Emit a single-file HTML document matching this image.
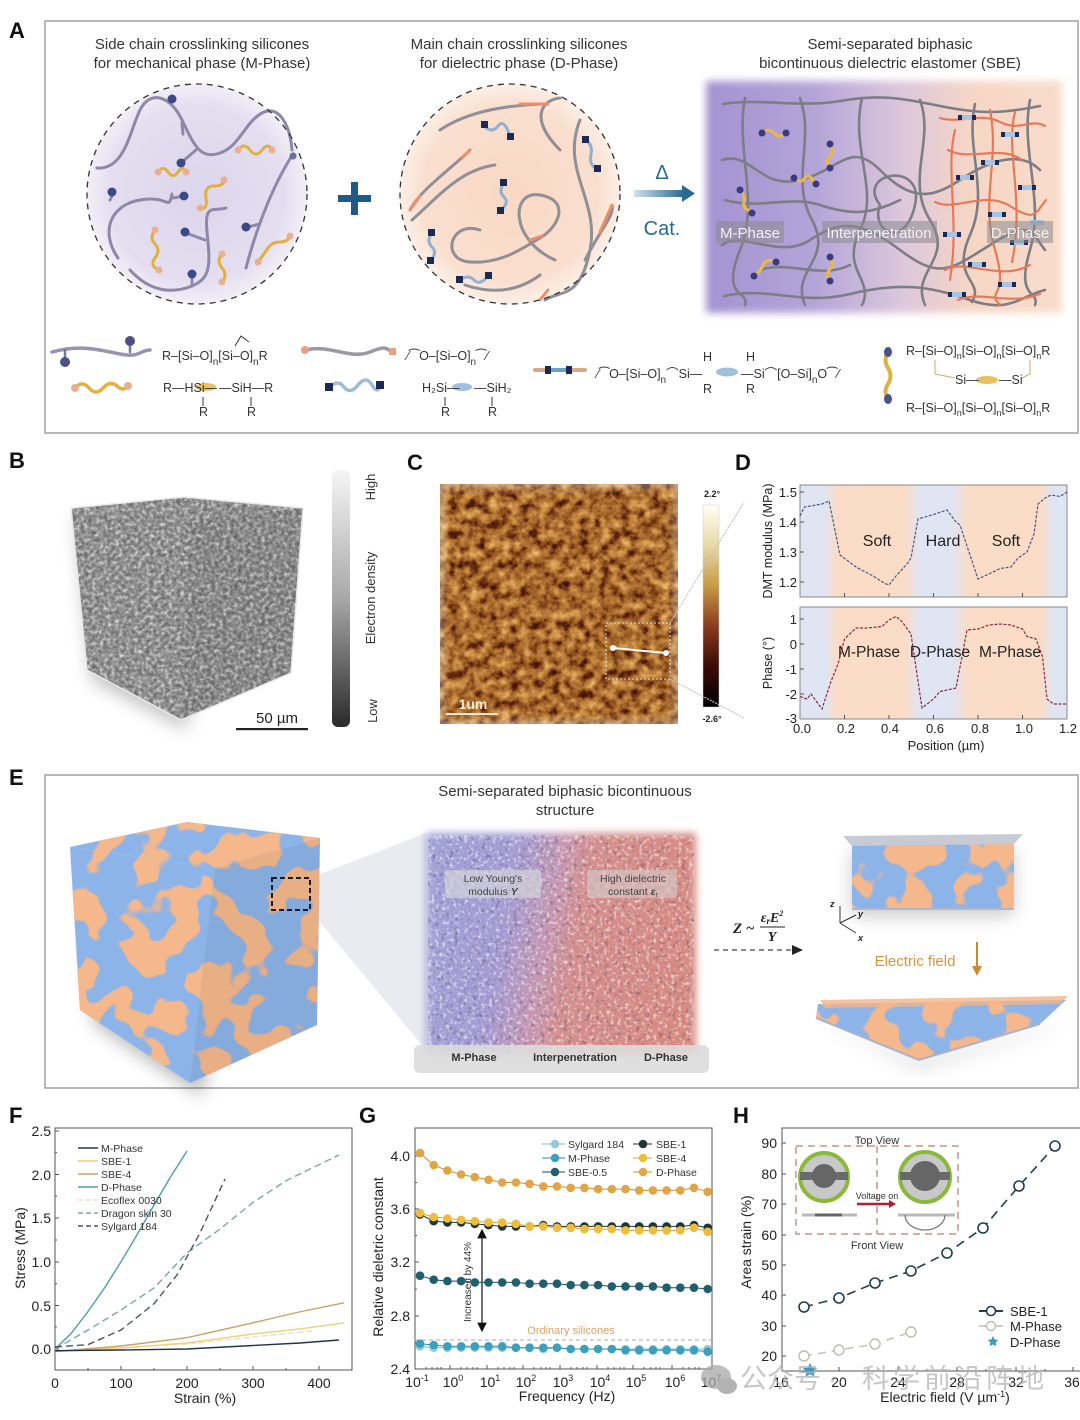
<!DOCTYPE html>
<html><head><meta charset="utf-8">
<style>
html,body{margin:0;padding:0;background:#fff;}
svg{display:block;}
text{font-family:"Liberation Sans",Arial,sans-serif;fill:#222;}
.pl{font-family:"Liberation Sans Narrow","Liberation Sans",sans-serif;font-weight:bold;font-size:22px;fill:#111;}
.t15{font-size:15px;fill:#333;}
.ch{font-size:12.5px;fill:#333;}
.tk{font-size:14px;fill:#222;}
.tkd{font-size:13px;fill:#222;}
.lg{font-size:10.5px;fill:#333;}
filter{color-interpolation-filters:sRGB;}
</style></head><body>
<svg width="1080" height="1420" viewBox="0 0 1080 1420" xmlns="http://www.w3.org/2000/svg">
<defs>
 <radialGradient id="gc1" cx="0.5" cy="0.5" r="0.5">
  <stop offset="0" stop-color="#ddd6ec"/><stop offset="0.8" stop-color="#e4def0"/><stop offset="1" stop-color="#f2eff7"/>
 </radialGradient>
 <radialGradient id="gc2" cx="0.5" cy="0.5" r="0.5">
  <stop offset="0" stop-color="#f9d8c4"/><stop offset="0.8" stop-color="#fadfcf"/><stop offset="1" stop-color="#fcefe6"/>
 </radialGradient>
 <linearGradient id="gsbe" x1="0" y1="0" x2="1" y2="0">
  <stop offset="0" stop-color="#a493d2"/><stop offset="0.3" stop-color="#b3a4d8"/><stop offset="0.55" stop-color="#dcc7dc"/><stop offset="0.75" stop-color="#f6d6c4"/><stop offset="1" stop-color="#f8dccb"/>
 </linearGradient>
 <linearGradient id="garrow" x1="0" y1="0" x2="1" y2="0">
  <stop offset="0" stop-color="#cfe0ec"/><stop offset="1" stop-color="#2a6a90"/>
 </linearGradient>
 <linearGradient id="gcbB" x1="0" y1="0" x2="0" y2="1">
  <stop offset="0" stop-color="#f6f6f6"/><stop offset="0.5" stop-color="#a8a8a8"/><stop offset="1" stop-color="#2a2a2a"/>
 </linearGradient>
 <linearGradient id="gcbC" x1="0" y1="0" x2="0" y2="1">
  <stop offset="0" stop-color="#fffff4"/><stop offset="0.2" stop-color="#ead9a6"/><stop offset="0.4" stop-color="#c79a45"/><stop offset="0.6" stop-color="#8a3b1e"/><stop offset="0.8" stop-color="#3a0c06"/><stop offset="1" stop-color="#000"/>
 </linearGradient>
 <linearGradient id="gband" x1="800" y1="0" x2="1067" y2="0" gradientUnits="userSpaceOnUse">
  <stop offset="0" stop-color="#dfe5f3"/><stop offset="0.09" stop-color="#dfe5f3"/><stop offset="0.14" stop-color="#fbdcc6"/>
  <stop offset="0.39" stop-color="#fbdcc6"/><stop offset="0.45" stop-color="#dfe5f3"/><stop offset="0.57" stop-color="#dfe5f3"/>
  <stop offset="0.63" stop-color="#fbdcc6"/><stop offset="0.9" stop-color="#fbdcc6"/><stop offset="0.95" stop-color="#dfe5f3"/><stop offset="1" stop-color="#dfe5f3"/>
 </linearGradient>
 <linearGradient id="gmid" x1="0" y1="0" x2="1" y2="0.15">
  <stop offset="0" stop-color="#9fa2d8"/><stop offset="0.35" stop-color="#a49bd2"/><stop offset="0.5" stop-color="#c598b4"/><stop offset="0.62" stop-color="#d48e8c"/><stop offset="1" stop-color="#d68a82"/>
 </linearGradient>
 <filter id="fGray" x="0" y="0" width="100%" height="100%" color-interpolation-filters="sRGB">
  <feTurbulence type="fractalNoise" baseFrequency="0.26" numOctaves="2" seed="5"/>
  <feColorMatrix type="matrix" values="1 0 0 0 0 1 0 0 0 0 1 0 0 0 0 0 0 0 0 1"/>
  <feComponentTransfer>
   <feFuncR type="table" tableValues="0.36 0.38 0.44 0.5 0.57 0.66 0.78 0.9 0.95"/>
   <feFuncG type="table" tableValues="0.36 0.38 0.44 0.5 0.57 0.66 0.78 0.9 0.95"/>
   <feFuncB type="table" tableValues="0.36 0.38 0.44 0.5 0.57 0.66 0.78 0.9 0.95"/>
  </feComponentTransfer>
  <feComposite in2="SourceGraphic" operator="in"/>
 </filter>
 <filter id="fAfm" x="0" y="0" width="100%" height="100%" color-interpolation-filters="sRGB">
  <feTurbulence type="fractalNoise" baseFrequency="0.1" numOctaves="3" seed="11"/>
  <feColorMatrix type="matrix" values="1 0 0 0 0 1 0 0 0 0 1 0 0 0 0 0 0 0 0 1"/>
  <feComponentTransfer>
   <feFuncR type="table" tableValues="0.2 0.22 0.33 0.52 0.66 0.76 0.85 0.9 0.94"/>
   <feFuncG type="table" tableValues="0.06 0.07 0.12 0.28 0.42 0.52 0.63 0.72 0.8"/>
   <feFuncB type="table" tableValues="0.03 0.03 0.05 0.1 0.18 0.25 0.33 0.44 0.5"/>
  </feComponentTransfer>
  <feComposite in2="SourceGraphic" operator="in"/>
 </filter>
 <filter id="fBlob" x="0" y="0" width="100%" height="100%" color-interpolation-filters="sRGB">
  <feTurbulence type="fractalNoise" baseFrequency="0.03" numOctaves="2" seed="7" result="t"/>
  <feColorMatrix in="t" type="matrix" values="0 0 0 0 0.96 0 0 0 0 0.72 0 0 0 0 0.55 -25 0 0 0 12.6" result="o"/>
  <feComposite in="o" in2="SourceGraphic" operator="in" result="oc"/>
  <feMerge><feMergeNode in="SourceGraphic"/><feMergeNode in="oc"/></feMerge>
 </filter>
 <filter id="fSpeck" x="0" y="0" width="100%" height="100%" color-interpolation-filters="sRGB">
  <feTurbulence type="fractalNoise" baseFrequency="0.28" numOctaves="2" seed="3"/>
  <feColorMatrix type="matrix" values="0 0 0 0 1 0 0 0 0 1 0 0 0 0 1 4 0 0 0 -2.05"/>
  <feComposite in2="SourceGraphic" operator="in"/>
 </filter>
 <filter id="fSpeckD" x="0" y="0" width="100%" height="100%" color-interpolation-filters="sRGB">
  <feTurbulence type="fractalNoise" baseFrequency="0.22" numOctaves="2" seed="9"/>
  <feColorMatrix type="matrix" values="0 0 0 0 0.3 0 0 0 0 0.2 0 0 0 0 0.35 -4 0 0 0 1.75"/>
  <feComposite in2="SourceGraphic" operator="in"/>
 </filter>
 <filter id="fBlur4" x="-10%" y="-10%" width="120%" height="120%"><feGaussianBlur stdDeviation="4"/></filter>
 <filter id="fBlur8" x="-20%" y="-20%" width="140%" height="140%"><feGaussianBlur stdDeviation="9"/></filter>
 <marker id="ah" markerWidth="8" markerHeight="8" refX="7" refY="4" orient="auto"><path d="M0,0 L8,4 L0,8 z" fill="#111"/></marker>
 <marker id="ahs" markerWidth="8" markerHeight="8" refX="1" refY="4" orient="auto"><path d="M8,0 L0,4 L8,8 z" fill="#111"/></marker>
</defs>

<!-- ================= PANEL A ================= -->
<text class="pl" x="9" y="38">A</text>
<rect x="45" y="21" width="1033" height="412" fill="none" stroke="#a0a0a0" stroke-width="1.5"/>
<text class="t15" x="202" y="49" text-anchor="middle">Side chain crosslinking silicones</text>
<text class="t15" x="202" y="68" text-anchor="middle">for mechanical phase (M-Phase)</text>
<text class="t15" x="519" y="49" text-anchor="middle">Main chain crosslinking silicones</text>
<text class="t15" x="519" y="68" text-anchor="middle">for dielectric phase (D-Phase)</text>
<text class="t15" x="890" y="49" text-anchor="middle">Semi-separated biphasic</text>
<text class="t15" x="890" y="68" text-anchor="middle">bicontinuous dielectric elastomer (SBE)</text>

<!-- circle 1 -->
<circle cx="197" cy="194" r="110" fill="url(#gc1)"/>
<g fill="none" stroke="#8d88a8" stroke-width="3" stroke-linecap="round">
 <path d="M97,168 C125,170 130,130 140,110 S170,95 182,120 S200,160 220,153 S245,122 262,113 S290,125 292,150"/>
 <path d="M118,258 C100,232 110,205 140,200 S168,212 172,194"/>
 <path d="M130,270 C150,292 172,294 192,286 S210,262 207,232 S214,212 226,208"/>
 <path d="M246,268 C258,222 275,182 293,154"/>
 <path d="M182,123 L183,134"/><path d="M196,150 L182,162"/><path d="M114,192 L110,200"/>
 <path d="M173,198 L184,196"/><path d="M205,240 L186,233"/><path d="M192,286 L192,275"/><path d="M260,224 L248,227"/>
</g>
<g fill="#3b4a85">
 <circle cx="172" cy="99" r="4.5"/><circle cx="181" cy="163" r="4.5"/><circle cx="112" cy="192" r="4.5"/>
 <circle cx="184" cy="196" r="4.5"/><circle cx="185" cy="232" r="4.5"/><circle cx="192" cy="274" r="4.5"/><circle cx="246" cy="227" r="4.5"/>
 <circle cx="293" cy="156" r="3.5" fill="#6a70a0"/>
</g>
<g fill="none" stroke="#e0b040" stroke-width="3" stroke-linecap="round">
 <path d="M238,150 q6,-8 12,0 t12,0 t10,0"/>
 <path d="M158,172 q5,-7 10,0 t10,0 t8,0"/>
 <path d="M200,208 q8,2 6,-10 t8,-12 t10,-6"/>
 <path d="M155,230 q-6,8 0,14 t0,14 t4,12"/>
 <path d="M222,254 q-6,7 0,14 t0,14"/>
 <path d="M258,262 q6,-8 10,-14 t12,-6 t10,-6"/>
</g>
<g fill="#e8b090">
 <circle cx="238" cy="150" r="3.5"/><circle cx="272" cy="150" r="3.5"/><circle cx="158" cy="172" r="3.5"/><circle cx="186" cy="172" r="3.5"/>
 <circle cx="200" cy="208" r="3.5"/><circle cx="224" cy="180" r="3.5"/><circle cx="155" cy="230" r="3.5"/><circle cx="159" cy="270" r="3.5"/>
 <circle cx="222" cy="254" r="3.5"/><circle cx="222" cy="282" r="3.5"/><circle cx="258" cy="262" r="3.5"/><circle cx="290" cy="236" r="3.5"/>
</g>
<circle cx="197" cy="194" r="110" fill="none" stroke="#333" stroke-width="1.3" stroke-dasharray="6 5"/>

<!-- plus -->
<rect x="338" y="195" width="33" height="7" fill="#1e5a85"/>
<rect x="351" y="182" width="7" height="33" fill="#1e5a85"/>

<!-- circle 2 -->
<circle cx="510" cy="194" r="110" fill="url(#gc2)"/>
<g fill="none" stroke="#8f8f95" stroke-width="3" stroke-linecap="round">
 <path d="M440,130 C470,110 510,105 545,104"/>
 <path d="M470,150 C450,170 420,190 410,210"/>
 <path d="M480,230 C450,220 440,260 470,262 S520,250 540,238 S570,200 540,195 S510,240 555,260"/>
 <path d="M560,150 C530,120 540,100 560,98"/>
 <path d="M580,120 C560,170 600,200 590,250 S560,290 545,300"/>
 <path d="M412,220 C440,195 460,170 495,165"/>
 <path d="M465,285 C495,295 520,290 540,275"/>
 <path d="M585,260 C600,230 615,215 612,205"/>
</g>
<g fill="none" stroke="#e8906c" stroke-width="3" stroke-linecap="round">
 <path d="M520,104 L548,104"/><path d="M420,196 L410,210"/><path d="M530,240 L542,236"/><path d="M600,232 L612,205"/><path d="M470,150 L462,158"/><path d="M548,290 L540,300"/>
</g>
<g fill="none" stroke="#8fb0cf" stroke-width="3" stroke-linecap="round">
 <path d="M484,126 q8,8 14,0 t12,10"/><path d="M504,183 q-6,8 0,14 t-4,14"/><path d="M432,233 q-6,8 0,14 t-2,14"/><path d="M460,280 q8,-6 14,0 t14,-4"/><path d="M585,140 q8,4 6,14 t4,14"/>
</g>
<g fill="#1b2a55">
 <rect x="481" y="121" width="7" height="7"/><rect x="507" y="133" width="7" height="7"/><rect x="500" y="179" width="7" height="7"/><rect x="497" y="207" width="7" height="7"/>
 <rect x="428" y="229" width="7" height="7"/><rect x="427" y="257" width="7" height="7"/><rect x="456" y="276" width="7" height="7"/><rect x="485" y="272" width="7" height="7"/>
 <rect x="582" y="136" width="7" height="7"/><rect x="594" y="165" width="7" height="7"/>
</g>
<circle cx="510" cy="194" r="110" fill="none" stroke="#333" stroke-width="1.3" stroke-dasharray="6 5"/>

<!-- arrow -->
<text x="662" y="179" text-anchor="middle" style="font-size:20px;fill:#2a6a90">Δ</text>
<rect x="634" y="190" width="50" height="7" fill="url(#garrow)"/>
<path d="M682,185 L695,193.5 L682,202 z" fill="#2a6a90"/>
<text x="662" y="235" text-anchor="middle" style="font-size:20px;fill:#2a6a90">Cat.</text>

<!-- SBE rect -->
<rect x="706" y="81" width="356" height="232" fill="url(#gsbe)" filter="url(#fBlur4)"/>
<g fill="none" stroke="#7d7d86" stroke-width="2.6" stroke-linecap="round">
 <path d="M723,104 C760,98 800,108 840,101 S900,98 940,106 S1000,114 1040,106"/>
 <path d="M722,160 C750,150 760,190 800,180 S850,140 880,170 S930,200 960,180 S1020,150 1040,170"/>
 <path d="M722,245 C740,230 780,260 810,240 S860,220 900,250 S950,270 990,245 S1030,230 1045,250"/>
 <path d="M724,296 C770,286 800,306 850,294 S930,286 970,300 S1020,296 1045,290"/>
 <path d="M745,98 C735,150 760,200 740,250 S750,290 745,305"/>
 <path d="M800,98 C815,140 790,180 812,220 S790,270 805,305"/>
 <path d="M862,98 C850,150 880,190 860,230 S875,280 862,305"/>
 <path d="M920,100 C935,140 905,180 930,220 S910,270 925,305"/>
 <path d="M975,104 C965,150 990,190 970,235 S985,280 972,302"/>
 <path d="M880,205 C855,172 925,160 915,205 S870,232 880,205"/>
 <path d="M1030,100 C1020,150 1045,200 1030,250 S1040,290 1035,305"/>
 <path d="M725,200 C760,210 790,195 820,205 S870,215 900,200"/>
 <path d="M760,270 C790,260 820,280 850,265"/>
</g>
<g fill="none" stroke="#e57a5a" stroke-width="2.2" stroke-linecap="round">
 <path d="M940,118 C960,124 980,112 1000,122 S1030,118 1045,126"/>
 <path d="M948,150 C970,162 1000,144 1022,160"/>
 <path d="M935,202 C955,212 985,190 1010,206 S1035,214 1046,200"/>
 <path d="M945,270 C965,258 1000,282 1030,265"/>
 <path d="M958,300 C980,290 1010,306 1040,294"/>
 <path d="M990,110 C1000,160 980,200 995,250 S985,290 1000,305"/>
 <path d="M1015,112 C1005,150 1025,200 1012,262"/>
 <path d="M955,130 C945,170 960,220 950,280"/>
</g>
<g>
 <g fill="#a8c4e2"><rect x="960" y="115" width="14" height="5"/><rect x="1003" y="132" width="14" height="5"/><rect x="983" y="160" width="14" height="5"/><rect x="958" y="175" width="14" height="5"/><rect x="1020" y="185" width="14" height="5"/><rect x="990" y="212" width="14" height="5"/><rect x="945" y="232" width="14" height="5"/><rect x="1012" y="240" width="14" height="5"/><rect x="970" y="262" width="14" height="5"/><rect x="1000" y="282" width="14" height="5"/><rect x="950" y="292" width="14" height="5"/><rect x="1030" y="220" width="14" height="5"/></g>
 <g fill="#1b2a55"><rect x="958" y="115" width="4" height="5"/><rect x="972" y="115" width="4" height="5"/><rect x="1001" y="132" width="4" height="5"/><rect x="1015" y="132" width="4" height="5"/><rect x="981" y="160" width="4" height="5"/><rect x="995" y="160" width="4" height="5"/><rect x="956" y="175" width="4" height="5"/><rect x="970" y="175" width="4" height="5"/><rect x="1018" y="185" width="4" height="5"/><rect x="1032" y="185" width="4" height="5"/><rect x="988" y="212" width="4" height="5"/><rect x="1002" y="212" width="4" height="5"/><rect x="943" y="232" width="4" height="5"/><rect x="957" y="232" width="4" height="5"/><rect x="1010" y="240" width="4" height="5"/><rect x="1024" y="240" width="4" height="5"/><rect x="968" y="262" width="4" height="5"/><rect x="982" y="262" width="4" height="5"/><rect x="998" y="282" width="4" height="5"/><rect x="1012" y="282" width="4" height="5"/><rect x="948" y="292" width="4" height="5"/><rect x="962" y="292" width="4" height="5"/></g>
</g>
<g fill="none" stroke="#e8b84a" stroke-width="3.2" stroke-linecap="round">
 <path d="M763,133 q6,-6 11,0 t11,0"/><path d="M830,145 q5,6 0,11 t0,11"/><path d="M795,178 q6,6 10,0 t10,6"/><path d="M740,190 q6,6 4,12 t8,10"/><path d="M830,258 q5,6 0,11 t0,11"/><path d="M755,275 q6,-4 8,-10 t12,-4"/>
</g>
<g fill="#3a3a80">
 <circle cx="762" cy="133" r="3.5"/><circle cx="786" cy="133" r="3.5"/><circle cx="830" cy="144" r="3.5"/><circle cx="830" cy="168" r="3.5"/>
 <circle cx="794" cy="178" r="3.5"/><circle cx="816" cy="184" r="3.5"/><circle cx="740" cy="190" r="3.5"/><circle cx="752" cy="213" r="3.5"/>
 <circle cx="830" cy="257" r="3.5"/><circle cx="830" cy="281" r="3.5"/><circle cx="754" cy="276" r="3.5"/><circle cx="776" cy="262" r="3.5"/>
</g>
<g>
 <rect x="716" y="221" width="68" height="22" fill="#8a8a90" opacity="0.55"/>
 <rect x="822" y="221" width="115" height="22" fill="#8a8a90" opacity="0.55"/>
 <rect x="987" y="221" width="66" height="22" fill="#8a8a90" opacity="0.55"/>
 <text x="750" y="238" text-anchor="middle" style="font-size:15px;fill:#f2f2f2">M-Phase</text>
 <text x="879" y="238" text-anchor="middle" style="font-size:15px;fill:#f2f2f2">Interpenetration</text>
 <text x="1020" y="238" text-anchor="middle" style="font-size:15px;fill:#f2f2f2">D-Phase</text>
</g>

<!-- chemistry row -->
<g fill="none" stroke-linecap="round">
 <path d="M52,352 C80,344 100,350 120,354 S140,350 150,350" stroke="#9a92b0" stroke-width="3.5"/>
 <path d="M65,350 L65,360 M130,352 L130,342" stroke="#7a74a0" stroke-width="2.5"/>
 <path d="M75,388 q7,-8 14,0 t14,0 t14,-2 t10,0" stroke="#e0b040" stroke-width="3.5"/>
 <path d="M305,350 C330,344 350,360 370,352 S385,350 393,352" stroke="#9a9aa0" stroke-width="3.5"/>
 <path d="M330,387 q8,-8 14,0 t14,-2 t14,0 t8,0" stroke="#9fbcd6" stroke-width="3.5"/>
 <path d="M535,370 L585,370" stroke="#d9a88a" stroke-width="4"/>
 <path d="M888,352 q-5,8 0,16 t0,16 t0,14" stroke="#e0b040" stroke-width="4"/>
</g>
<circle cx="65" cy="362" r="5" fill="#4a5288"/><circle cx="130" cy="341" r="5" fill="#4a5288"/>
<circle cx="75" cy="388" r="4" fill="#e8b090"/><circle cx="128" cy="386" r="4" fill="#e8b090"/>
<circle cx="305" cy="350" r="4" fill="#e8a080"/><rect x="389" y="348" width="7" height="7" fill="#e8a080"/>
<rect x="325" y="383" width="8" height="8" fill="#1b2a55"/><rect x="376" y="381" width="8" height="8" fill="#1b2a55"/>
<rect x="545" y="366" width="6" height="8" fill="#1b2a55"/><rect x="566" y="366" width="6" height="8" fill="#1b2a55"/><rect x="551" y="368" width="15" height="4" fill="#6fa0cc"/>
<ellipse cx="888" cy="352" rx="4" ry="5" fill="#4a5288"/><ellipse cx="888" cy="399" rx="4" ry="5" fill="#4a5288"/>
<ellipse cx="206" cy="387" rx="10" ry="4" fill="#e8c060"/><ellipse cx="462" cy="387" rx="10" ry="4" fill="#9fc0dc"/>
<ellipse cx="727" cy="372" rx="11" ry="4.5" fill="#9fc0dc"/><ellipse cx="987" cy="380" rx="11" ry="4" fill="#e8c060"/>
<text class="ch" x="162" y="360">R–[Si–O]<tspan dy="5" font-size="10">n</tspan><tspan dy="-5">[Si–O]</tspan><tspan dy="5" font-size="10">n</tspan><tspan dy="-5">R</tspan></text>
<path d="M235,346 l6,-10 l8,6" fill="none" stroke="#333" stroke-width="1"/>
<text class="ch" x="163" y="392">R—HSi—</text><text class="ch" x="219" y="392">—SiH—R</text>
<text class="ch" x="199" y="416">R</text><text class="ch" x="247" y="416">R</text>
<path d="M203,397 v9 M251,397 v9" stroke="#333" stroke-width="1"/>
<text class="ch" x="407" y="360">⁄⁀O–[Si–O]<tspan dy="5" font-size="10">n</tspan><tspan dy="-5">⁀⁄</tspan></text>
<text class="ch" x="422" y="392">H₂Si—</text><text class="ch" x="474" y="392">—SiH₂</text>
<text class="ch" x="441" y="416">R</text><text class="ch" x="488" y="416">R</text>
<path d="M445,397 v9 M492,397 v9" stroke="#333" stroke-width="1"/>
<text class="ch" x="597" y="378">⁄⁀O–[Si–O]<tspan dy="5" font-size="10">n</tspan><tspan dy="-5">⌒Si—</tspan></text>
<text class="ch" x="741" y="378">—Si⌒[O–Si]<tspan dy="5" font-size="10">n</tspan><tspan dy="-5">O⁀⁄</tspan></text>
<text class="ch" x="703" y="361">H</text><text class="ch" x="746" y="361">H</text>
<text class="ch" x="703" y="393">R</text><text class="ch" x="746" y="393">R</text>
<text class="ch" x="906" y="355">R–[Si–O]<tspan dy="4" font-size="9">n</tspan><tspan dy="-4">[Si–O]</tspan><tspan dy="4" font-size="9">n</tspan><tspan dy="-4">[Si–O]</tspan><tspan dy="4" font-size="9">n</tspan><tspan dy="-4">R</tspan></text>
<text class="ch" x="955" y="384">Si—</text><text class="ch" x="999" y="384">—Si</text>
<text class="ch" x="906" y="412">R–[Si–O]<tspan dy="4" font-size="9">n</tspan><tspan dy="-4">[Si–O]</tspan><tspan dy="4" font-size="9">n</tspan><tspan dy="-4">[Si–O]</tspan><tspan dy="4" font-size="9">n</tspan><tspan dy="-4">R</tspan></text>
<path d="M935,360 v14 l20,4 M1030,360 v14 l-8,4" fill="none" stroke="#c8b060" stroke-width="1"/>

<!-- ================= PANEL B ================= -->
<text class="pl" x="9" y="468">B</text>
<polygon points="70,510 190,520 182,722 86,672" fill="#000" opacity="0.25" filter="url(#fBlur8)" transform="translate(6,8)"/>
<polygon points="71,508 184,497 303,508 190,519" fill="#888" filter="url(#fGray)"/>
<polygon points="71,508 190,519 181,720 87,670" fill="#888" filter="url(#fGray)"/>
<polygon points="190,519 303,508 291,673 181,720" fill="#888" filter="url(#fGray)"/>
<polygon points="190,519 303,508 291,673 181,720" fill="#000" opacity="0.05"/>
<polyline points="71,508 184,497 303,508 291,673 181,720 87,670 71,508" fill="none" stroke="#e8e8e8" stroke-width="1.5"/>
<rect x="332" y="470" width="18" height="257" rx="6" fill="url(#gcbB)"/>
<text transform="translate(375,487) rotate(-90)" text-anchor="middle" style="font-size:13px;fill:#333">High</text>
<text transform="translate(375,598) rotate(-90)" text-anchor="middle" style="font-size:13px;fill:#333">Electron density</text>
<text transform="translate(377,711) rotate(-90)" text-anchor="middle" style="font-size:13px;fill:#333">Low</text>
<text x="277" y="723" text-anchor="middle" style="font-size:15px;fill:#222">50 µm</text>
<rect x="236" y="728" width="72" height="2.2" fill="#222"/>

<!-- ================= PANEL C ================= -->
<text class="pl" x="407" y="470">C</text>
<rect x="440" y="484" width="238" height="240" fill="#a07030" filter="url(#fAfm)"/>
<rect x="440" y="484" width="238" height="240" fill="none" stroke="#fff" stroke-width="5" opacity="0.6" filter="url(#fBlur4)"/>
<rect x="606" y="623" width="64" height="56" fill="none" stroke="#ddd" stroke-width="1" stroke-dasharray="2 2"/>
<line x1="613" y1="648" x2="666" y2="653" stroke="#fff" stroke-width="2"/>
<circle cx="613" cy="648" r="3" fill="#fff"/><circle cx="666" cy="653" r="3" fill="#fff"/>
<text x="473" y="709" text-anchor="middle" style="font-size:14px;font-weight:bold;fill:#f4ead0">1um</text>
<rect x="446" y="713" width="52" height="2" fill="#f4ead0"/>
<rect x="703" y="505" width="16" height="202" fill="url(#gcbC)" stroke="#ccc" stroke-width="0.5"/>
<text x="712" y="497" text-anchor="middle" style="font-size:9px;font-weight:bold;fill:#222">2.2°</text>
<text x="712" y="722" text-anchor="middle" style="font-size:9px;font-weight:bold;fill:#222">-2.6°</text>
<line x1="670" y1="623" x2="744" y2="502" stroke="#c4c4c4" stroke-width="1.2" stroke-dasharray="2 1"/>
<line x1="670" y1="679" x2="744" y2="718" stroke="#c4c4c4" stroke-width="1.2" stroke-dasharray="2 1"/>

<!-- ================= PANEL D ================= -->
<text class="pl" x="735" y="470">D</text>
<rect x="800" y="485" width="267" height="112" fill="url(#gband)"/>
<rect x="800" y="607" width="267" height="112" fill="url(#gband)"/>
<rect x="800" y="485" width="267" height="112" fill="none" stroke="#888" stroke-width="1"/>
<rect x="800" y="607" width="267" height="112" fill="none" stroke="#888" stroke-width="1"/>
<g stroke="#555" stroke-width="1">
 <path d="M800,492h4M800,522h4M800,552h4M800,582h4"/>
 <path d="M800,619h4M800,644h4M800,669h4M800,694h4"/>
 <path d="M844.5,597v-4M889,597v-4M933.5,597v-4M978,597v-4M1022.5,597v-4"/>
 <path d="M844.5,719v-4M889,719v-4M933.5,719v-4M978,719v-4M1022.5,719v-4"/>
</g>
<g text-anchor="end">
 <text x="797" y="497" class="tkd">1.5</text><text x="797" y="527" class="tkd">1.4</text><text x="797" y="557" class="tkd">1.3</text><text x="797" y="587" class="tkd">1.2</text>
 <text x="797" y="624" class="tkd">1</text><text x="797" y="649" class="tkd">0</text><text x="797" y="674" class="tkd">-1</text><text x="797" y="699" class="tkd">-2</text><text x="797" y="723" class="tkd">-3</text>
</g>
<g text-anchor="middle">
 <text x="802" y="733" class="tkd">0.0</text><text x="846" y="733" class="tkd">0.2</text><text x="890" y="733" class="tkd">0.4</text><text x="935" y="733" class="tkd">0.6</text><text x="980" y="733" class="tkd">0.8</text><text x="1024" y="733" class="tkd">1.0</text><text x="1068" y="733" class="tkd">1.2</text>
</g>
<text x="946" y="750" text-anchor="middle" style="font-size:13px;fill:#222">Position (µm)</text>
<text transform="translate(772,541) rotate(-90)" text-anchor="middle" style="font-size:12.5px;fill:#222">DMT modulus (MPa)</text>
<text transform="translate(772,663) rotate(-90)" text-anchor="middle" style="font-size:12.5px;fill:#222">Phase (°)</text>
<polyline fill="none" stroke="#4a5a80" stroke-width="1.2" stroke-dasharray="3 1.5" points="800,516 804.5,507 822,504 829,501 840,555 856,567 873,576 885,583.5 889,585 896,576 907,564 911,558 918,519 933.5,514.5 947,510 956,522 960,525 978,579 991,573 1000,568.5 1011,567 1018,558 1027,552 1034,534 1038,504 1045,498 1051,495 1060,496.5 1067,492"/>
<polyline fill="none" stroke="#8b2a48" stroke-width="1.2" stroke-dasharray="3 1.5" points="800,696.5 807,699 811,694 822,709 831,681.5 838,664 844.5,639 856,628 867,628 882,626.5 889,620 896,616.5 902,621.5 911,634 922,708 933.5,699 940,691.5 947,690 956,688 962,656.5 967,630 978,629 989,625 1000,624 1011,625 1022.5,629 1027,636.5 1036,639 1042.5,656.5 1047,699 1053.5,704 1067,704"/>
<text x="877" y="546" text-anchor="middle" style="font-size:16px;fill:#222">Soft</text>
<text x="943" y="546" text-anchor="middle" style="font-size:16px;fill:#222">Hard</text>
<text x="1006" y="546" text-anchor="middle" style="font-size:16px;fill:#222">Soft</text>
<text x="869" y="657" text-anchor="middle" style="font-size:15.5px;fill:#222">M-Phase</text>
<text x="940" y="657" text-anchor="middle" style="font-size:15.5px;fill:#222">D-Phase</text>
<text x="1010" y="657" text-anchor="middle" style="font-size:15.5px;fill:#222">M-Phase</text>

<!-- ================= PANEL E ================= -->
<text class="pl" x="9" y="785">E</text>
<rect x="45" y="775" width="1033" height="313" fill="none" stroke="#a0a0a0" stroke-width="1.5"/>
<text class="t15" x="565" y="796" text-anchor="middle">Semi-separated biphasic bicontinuous</text>
<text class="t15" x="565" y="815" text-anchor="middle">structure</text>
<polygon points="310,878 426,833 426,1050 310,910" fill="#e9ebf1"/>
<polygon points="75,850 215,872 195,1088 86,1015" fill="#000" opacity="0.3" filter="url(#fBlur8)" transform="translate(8,8)"/>
<polygon points="70,847 187,822 320,838 215,868" fill="#8db4e8" filter="url(#fBlob)"/>
<polygon points="70,847 215,868 190,1083 80,1010" fill="#8db4e8" filter="url(#fBlob)"/>
<polygon points="215,868 320,838 317,1025 190,1083" fill="#8db4e8" filter="url(#fBlob)"/>
<polygon points="215,868 320,838 317,1025 190,1083" fill="#000" opacity="0.05"/>
<rect x="272" y="878" width="38" height="32" fill="none" stroke="#1a1a2a" stroke-width="2" stroke-dasharray="5 3"/>
<!-- middle image -->
<rect x="426" y="833" width="270" height="222" fill="url(#gmid)" filter="url(#fBlur4)"/>
<rect x="428" y="835" width="266" height="218" fill="#fff" opacity="0.55" filter="url(#fSpeck)"/>
<rect x="428" y="835" width="266" height="218" fill="#000" opacity="0.35" filter="url(#fSpeckD)"/>
<rect x="445" y="870" width="96" height="28" rx="3" fill="#d4d4d8" opacity="0.7"/>
<rect x="587" y="870" width="90" height="28" rx="3" fill="#d6c4c4" opacity="0.7"/>
<text x="493" y="882" text-anchor="middle" style="font-size:10.5px;fill:#444">Low Young's</text>
<text x="493" y="895" text-anchor="middle" style="font-size:10.5px;fill:#444">modulus <tspan font-weight="bold" font-style="italic">Y</tspan></text>
<text x="633" y="882" text-anchor="middle" style="font-size:10.5px;fill:#444">High dielectric</text>
<text x="633" y="895" text-anchor="middle" style="font-size:10.5px;fill:#444">constant <tspan font-weight="bold" font-style="italic">ε</tspan><tspan font-size="7" dy="2">r</tspan></text>
<rect x="414" y="1045" width="295" height="28" rx="6" fill="#dcdcdc" opacity="0.9"/>
<text x="474" y="1061" text-anchor="middle" style="font-size:11px;font-weight:bold;fill:#333">M-Phase</text>
<text x="575" y="1061" text-anchor="middle" style="font-size:11px;font-weight:bold;fill:#333">Interpenetration</text>
<text x="666" y="1061" text-anchor="middle" style="font-size:11px;font-weight:bold;fill:#333">D-Phase</text>
<!-- equation -->
<text x="733" y="933" style="font-family:'Liberation Serif',serif;font-size:15px;font-weight:bold;font-style:italic;fill:#222">Z ~</text>
<text x="772" y="922" text-anchor="middle" style="font-family:'Liberation Serif',serif;font-size:14px;font-weight:bold;font-style:italic;fill:#222">ε<tspan font-size="9" dy="2">r</tspan><tspan dy="-2">E</tspan><tspan font-size="8" dy="-6">2</tspan></text>
<line x1="760" y1="927" x2="785" y2="927" stroke="#222" stroke-width="1"/>
<text x="772" y="941" text-anchor="middle" style="font-family:'Liberation Serif',serif;font-size:14px;font-weight:bold;font-style:italic;fill:#222">Y</text>
<line x1="714" y1="950" x2="795" y2="950" stroke="#444" stroke-width="1.2" stroke-dasharray="5 4"/>
<path d="M792,945 L803,950 L792,955 z" fill="#222"/>
<!-- axes -->
<g stroke="#333" stroke-width="1" fill="none"><path d="M840,923 L840,906 M840,923 L856,915 M840,923 L856,933"/></g>
<text x="830" y="907" style="font-size:9px;font-weight:bold;font-style:italic;fill:#222">z</text>
<text x="858" y="917" style="font-size:9px;font-weight:bold;font-style:italic;fill:#222">y</text>
<text x="858" y="941" style="font-size:9px;font-weight:bold;font-style:italic;fill:#222">x</text>
<!-- top block -->
<rect x="852" y="842" width="162" height="68" rx="5" fill="#000" opacity="0.2" filter="url(#fBlur8)" transform="translate(0,6)"/>
<rect x="852" y="842" width="162" height="68" rx="5" fill="#8db4e8" filter="url(#fBlob)"/>
<polygon points="843,836 1023,834 1014,844 852,846" fill="#c6cbd6"/>
<line x1="852" y1="909" x2="1014" y2="909" stroke="#aeb6c8" stroke-width="2"/>
<text x="915" y="966" text-anchor="middle" style="font-size:15px;fill:#d4953a">Electric field</text>
<line x1="977" y1="942" x2="977" y2="968" stroke="#c98a35" stroke-width="2"/>
<path d="M972,966 L977,976 L982,966 z" fill="#c98a35"/>
<!-- bottom block -->
<polygon points="818,1020 919,1068 1068,1024 1040,1030 919,1062" fill="#000" opacity="0.25" filter="url(#fBlur8)"/>
<polygon points="818,1004 1066,1000 1040,1024 919,1060 816,1018" fill="#8db4e8" filter="url(#fBlob)"/>
<polygon points="820,1000 1068,996 1060,1004 826,1008" fill="#f2b488" opacity="0.8"/>
<polyline points="816,1018 919,1060 1040,1024" fill="none" stroke="#a8b2cc" stroke-width="2"/>

<!-- ================= PANEL F ================= -->
<text class="pl" x="9" y="1123">F</text>
<rect x="55" y="1128" width="297" height="242" fill="none" stroke="#555" stroke-width="1"/>
<g stroke="#555" stroke-width="1">
 <path d="M55,1131h4M55,1174.5h4M55,1218h4M55,1262h4M55,1305.5h4M55,1349h4"/>
 <path d="M55,1152.8h2M55,1196.3h2M55,1240h2M55,1283.6h2M55,1327h2"/>
 <path d="M121,1370v-4M187,1370v-4M253,1370v-4M319,1370v-4M88,1370v-2M154,1370v-2M220,1370v-2M286,1370v-2M352,1370v-2"/>
</g>
<g text-anchor="end">
 <text x="51" y="1136" class="tk">2.5</text><text x="51" y="1180" class="tk">2.0</text><text x="51" y="1223" class="tk">1.5</text><text x="51" y="1267" class="tk">1.0</text><text x="51" y="1311" class="tk">0.5</text><text x="51" y="1354" class="tk">0.0</text>
</g>
<g text-anchor="middle">
 <text x="55" y="1388" class="tk">0</text><text x="121" y="1388" class="tk">100</text><text x="187" y="1388" class="tk">200</text><text x="253" y="1388" class="tk">300</text><text x="319" y="1388" class="tk">400</text>
</g>
<text x="205" y="1403" text-anchor="middle" style="font-size:14px;fill:#222">Strain (%)</text>
<text transform="translate(25,1248) rotate(-90)" text-anchor="middle" style="font-size:14px;fill:#222">Stress (MPa)</text>
<g fill="none" stroke-width="1.4">
 <polyline stroke="#e9dfc4" stroke-dasharray="6 3" points="55,1351 121,1348 187,1344 253,1337 312,1331"/>
 <polyline stroke="#ecd27e" points="55,1351.6 121,1348 187,1343 253,1334 299,1329 344,1323"/>
 <polyline stroke="#c9a267" points="55,1351.6 121,1346 187,1337.7 253,1322.8 299,1312 344,1302.8"/>
 <polyline stroke="#23344a" points="55,1350.7 121,1350 187,1349 253,1345.5 300,1343 339,1340"/>
 <polyline stroke="#4e9ea5" points="55,1349 71.5,1333 88,1311.5 104.5,1288 121,1261.8 137.5,1234 154,1205 170.5,1177 187,1151"/>
 <polyline stroke="#79a8a6" stroke-dasharray="7 4" points="55,1349 88,1330 121,1310 154,1288 187,1253 220,1229 253,1202.5 286,1180.7 339,1155"/>
 <polyline stroke="#4b5563" stroke-dasharray="7 4" points="55,1347 88,1344.6 121,1330 154,1303.7 177,1275 200,1233 225,1179"/>
</g>
<g stroke-width="1.5">
 <line x1="78" y1="1148" x2="98" y2="1148" stroke="#23344a"/>
 <line x1="78" y1="1161" x2="98" y2="1161" stroke="#ecd27e"/>
 <line x1="78" y1="1174" x2="98" y2="1174" stroke="#c9a267"/>
 <line x1="78" y1="1187" x2="98" y2="1187" stroke="#4e9ea5"/>
 <line x1="78" y1="1200" x2="98" y2="1200" stroke="#e9dfc4" stroke-dasharray="5 3"/>
 <line x1="78" y1="1213" x2="98" y2="1213" stroke="#79a8a6" stroke-dasharray="5 3"/>
 <line x1="78" y1="1226" x2="98" y2="1226" stroke="#4b5563" stroke-dasharray="5 3"/>
</g>
<g>
 <text x="101" y="1152" class="lg">M-Phase</text><text x="101" y="1165" class="lg">SBE-1</text><text x="101" y="1178" class="lg">SBE-4</text><text x="101" y="1191" class="lg">D-Phase</text>
 <text x="101" y="1204" class="lg">Ecoflex 0030</text><text x="101" y="1217" class="lg">Dragon skin 30</text><text x="101" y="1230" class="lg">Sylgard 184</text>
</g>

<!-- ================= PANEL G ================= -->
<text class="pl" x="359" y="1123">G</text>
<rect x="415" y="1128" width="297" height="241" fill="none" stroke="#555" stroke-width="1"/>
<g stroke="#555" stroke-width="1">
 <path d="M415,1156h4M415,1209h4M415,1262h4M415,1316h4M415,1182.5h2M415,1235.5h2M415,1289h2M415,1342.5h2"/>
 <path d="M450,1369v-4M487,1369v-4M523,1369v-4M560,1369v-4M597,1369v-4M633,1369v-4M672,1369v-4"/>
 <path d="M426,1369v-2M432,1369v-2M437,1369v-2M441,1369v-2M461,1369v-2M467,1369v-2M473,1369v-2M477,1369v-2M498,1369v-2M504,1369v-2M510,1369v-2M514,1369v-2M534,1369v-2M541,1369v-2M546,1369v-2M550,1369v-2M571,1369v-2M577,1369v-2M583,1369v-2M587,1369v-2M608,1369v-2M614,1369v-2M620,1369v-2M624,1369v-2M644,1369v-2M651,1369v-2M656,1369v-2M660,1369v-2M683,1369v-2M689,1369v-2M695,1369v-2M699,1369v-2"/>
</g>
<g text-anchor="end">
 <text x="410" y="1161" class="tk">4.0</text><text x="410" y="1214" class="tk">3.6</text><text x="410" y="1267" class="tk">3.2</text><text x="410" y="1321" class="tk">2.8</text><text x="410" y="1374" class="tk">2.4</text>
</g>
<g text-anchor="middle" class="tk">
 <text x="417" y="1387" class="tk">10<tspan font-size="9" dy="-6">-1</tspan></text>
 <text x="453" y="1387" class="tk">10<tspan font-size="9" dy="-6">0</tspan></text>
 <text x="490" y="1387" class="tk">10<tspan font-size="9" dy="-6">1</tspan></text>
 <text x="526" y="1387" class="tk">10<tspan font-size="9" dy="-6">2</tspan></text>
 <text x="563" y="1387" class="tk">10<tspan font-size="9" dy="-6">3</tspan></text>
 <text x="600" y="1387" class="tk">10<tspan font-size="9" dy="-6">4</tspan></text>
 <text x="636" y="1387" class="tk">10<tspan font-size="9" dy="-6">5</tspan></text>
 <text x="675" y="1387" class="tk">10<tspan font-size="9" dy="-6">6</tspan></text>
 <text x="711" y="1387" class="tk">10<tspan font-size="9" dy="-6">7</tspan></text>
</g>
<text x="567" y="1401" text-anchor="middle" style="font-size:14px;fill:#222">Frequency (Hz)</text>
<text transform="translate(383,1257) rotate(-90)" text-anchor="middle" style="font-size:14px;fill:#222">Relative dieletric constant</text>
<line x1="415" y1="1340" x2="712" y2="1340" stroke="#aaa" stroke-width="1" stroke-dasharray="4 3"/>
<text x="571" y="1334" text-anchor="middle" style="font-size:11px;fill:#d9a264">Ordinary silicones</text>
<line x1="482" y1="1230" x2="482" y2="1331" stroke="#111" stroke-width="1.2" marker-end="url(#ah)" marker-start="url(#ahs)"/>
<text transform="translate(471,1282) rotate(-90)" text-anchor="middle" style="font-size:10px;fill:#333">Increased by 44%</text>
<g id="series"></g>
<script>
(function(){
var ns="http://www.w3.org/2000/svg";
var g=document.getElementById("series");
function Y(v){return 1369-(v-2.4)*133.25;}
var S=[
 ["#94cbd8","#7ab8c8",[2.57,2.56,2.56,2.56,2.56,2.56,2.56,2.56,2.56,2.55,2.56,2.55,2.55,2.55,2.55,2.55,2.55,2.55,2.55,2.55,2.55,2.55]],
 ["#3aa0bd","#2a8aa8",[2.59,2.58,2.57,2.57,2.57,2.57,2.57,2.56,2.56,2.56,2.56,2.55,2.55,2.55,2.55,2.54,2.54,2.54,2.54,2.54,2.54,2.53]],
 ["#1f5f6e","#1a4f5c",[3.10,3.07,3.06,3.06,3.05,3.05,3.05,3.05,3.04,3.04,3.04,3.03,3.03,3.03,3.02,3.02,3.02,3.02,3.01,3.01,3.01,3.00]],
 ["#1e3636","#1e3636",[3.56,3.51,3.50,3.50,3.49,3.48,3.47,3.47,3.47,3.48,3.47,3.47,3.47,3.47,3.47,3.47,3.47,3.47,3.47,3.47,3.48,3.46]],
 ["#efbd3c","#d9a52a",[3.57,3.54,3.53,3.52,3.51,3.50,3.50,3.49,3.47,3.47,3.46,3.46,3.45,3.45,3.45,3.44,3.44,3.44,3.44,3.44,3.46,3.43]],
 ["#e2a545","#c98e30",[4.02,3.93,3.89,3.86,3.84,3.82,3.80,3.80,3.79,3.77,3.77,3.76,3.76,3.75,3.75,3.75,3.74,3.74,3.74,3.74,3.76,3.73]]
];
S.forEach(function(s){
 var pts=[];
 s[2].forEach(function(v,i){pts.push((420+i*13.7).toFixed(1)+","+Y(v).toFixed(1));});
 var pl=document.createElementNS(ns,"polyline");
 pl.setAttribute("points",pts.join(" "));pl.setAttribute("fill","none");pl.setAttribute("stroke",s[1]);pl.setAttribute("stroke-width","1");
 g.appendChild(pl);
 s[2].forEach(function(v,i){
  var c=document.createElementNS(ns,"circle");
  c.setAttribute("cx",(420+i*13.7).toFixed(1));c.setAttribute("cy",Y(v).toFixed(1));c.setAttribute("r","4.3");c.setAttribute("fill",s[0]);
  g.appendChild(c);
 });
});
})();
</script>
<g>
 <line x1="542" y1="1144" x2="565" y2="1144" stroke="#7ab8c8"/><circle cx="555" cy="1144" r="4.3" fill="#94cbd8"/>
 <line x1="542" y1="1158" x2="565" y2="1158" stroke="#2a8aa8"/><circle cx="555" cy="1158" r="4.3" fill="#3aa0bd"/>
 <line x1="542" y1="1172" x2="565" y2="1172" stroke="#1a4f5c"/><circle cx="555" cy="1172" r="4.3" fill="#1f5f6e"/>
 <line x1="633" y1="1144" x2="652" y2="1144" stroke="#1e3636"/><circle cx="643" cy="1144" r="4.3" fill="#1e3636"/>
 <line x1="633" y1="1158" x2="652" y2="1158" stroke="#d9a52a"/><circle cx="643" cy="1158" r="4.3" fill="#efbd3c"/>
 <line x1="633" y1="1172" x2="652" y2="1172" stroke="#c98e30"/><circle cx="643" cy="1172" r="4.3" fill="#e2a545"/>
 <text x="568" y="1148" class="lg">Sylgard 184</text><text x="568" y="1162" class="lg">M-Phase</text><text x="568" y="1176" class="lg">SBE-0.5</text>
 <text x="656" y="1148" class="lg">SBE-1</text><text x="656" y="1162" class="lg">SBE-4</text><text x="656" y="1176" class="lg">D-Phase</text>
</g>

<!-- ================= PANEL H ================= -->
<text class="pl" x="733" y="1123">H</text>
<path d="M1080,1128 L782,1128 L782,1371 L1080,1371" fill="none" stroke="#555" stroke-width="1"/>
<g stroke="#555" stroke-width="1">
 <path d="M782,1143h4M782,1174h4M782,1204h4M782,1235h4M782,1265h4M782,1295h4M782,1326h4M782,1356h4"/>
 <path d="M839,1371v-4M898,1371v-4M957,1371v-4M1016,1371v-4M1073,1371v-4M810,1371v-2M868,1371v-2M927,1371v-2M986,1371v-2M1045,1371v-2"/>
</g>
<g text-anchor="end">
 <text x="777" y="1148" class="tk">90</text><text x="777" y="1179" class="tk">80</text><text x="777" y="1209" class="tk">70</text><text x="777" y="1240" class="tk">60</text>
 <text x="777" y="1270" class="tk">50</text><text x="777" y="1300" class="tk">40</text><text x="777" y="1331" class="tk">30</text><text x="777" y="1361" class="tk">20</text>
</g>
<g text-anchor="middle">
 <text x="781" y="1387" class="tk">16</text><text x="839" y="1387" class="tk">20</text><text x="898" y="1387" class="tk">24</text><text x="957" y="1387" class="tk">28</text><text x="1016" y="1387" class="tk">32</text><text x="1072" y="1387" class="tk">36</text>
</g>
<text x="945" y="1402" text-anchor="middle" style="font-size:14px;fill:#222">Electric field (V µm<tspan font-size="9" dy="-5">-1</tspan><tspan dy="5">)</tspan></text>
<text transform="translate(751,1242) rotate(-90)" text-anchor="middle" style="font-size:14px;fill:#222">Area strain (%)</text>
<polyline fill="none" stroke="#1f3f4f" stroke-width="1.6" stroke-dasharray="9 6" points="804,1307 839,1298 875,1283 911,1271 947,1253 983,1228 1019,1186 1055,1146"/>
<g fill="#fff" stroke="#1f3f4f" stroke-width="1.6">
 <circle cx="804" cy="1307" r="5"/><circle cx="839" cy="1298" r="5"/><circle cx="875" cy="1283" r="5"/><circle cx="911" cy="1271" r="5"/>
 <circle cx="947" cy="1253" r="5"/><circle cx="983" cy="1228" r="5"/><circle cx="1019" cy="1186" r="5"/><circle cx="1055" cy="1146" r="5"/>
</g>
<polyline fill="none" stroke="#c2bcae" stroke-width="1.4" stroke-dasharray="8 6" points="804,1356 839,1350 875,1344 911,1332"/>
<g fill="#fff" stroke="#c2bcae" stroke-width="1.4">
 <circle cx="804" cy="1356" r="5"/><circle cx="839" cy="1350" r="5"/><circle cx="875" cy="1344" r="5"/><circle cx="911" cy="1332" r="5"/>
</g>
<path d="M810,1363 l2.2,4.6 5,0.6 -3.7,3.4 1,5 -4.5,-2.5 -4.5,2.5 1,-5 -3.7,-3.4 5,-0.6z" fill="#3a9ac0"/>
<line x1="979" y1="1311" x2="1003" y2="1311" stroke="#1f3f4f" stroke-width="2"/><circle cx="991" cy="1311" r="4.5" fill="#fff" stroke="#1f3f4f" stroke-width="1.6"/>
<line x1="979" y1="1326" x2="1003" y2="1326" stroke="#c2bcae" stroke-width="1.4"/><circle cx="991" cy="1326" r="4.5" fill="#fff" stroke="#c2bcae" stroke-width="1.4"/>
<path d="M993,1336 l1.6,3.5 3.8,0.4 -2.8,2.6 0.8,3.8 -3.4,-1.9 -3.4,1.9 0.8,-3.8 -2.8,-2.6 3.8,-0.4z" fill="#3a9ac0"/>
<text x="1010" y="1316" style="font-size:13px;fill:#222">SBE-1</text>
<text x="1010" y="1331" style="font-size:13px;fill:#222">M-Phase</text>
<text x="1010" y="1347" style="font-size:13px;fill:#222">D-Phase</text>
<!-- inset -->
<rect x="796" y="1146" width="162" height="88" fill="none" stroke="#c89090" stroke-width="1.5" stroke-dasharray="7 5"/>
<line x1="877" y1="1146" x2="877" y2="1234" stroke="#c89090" stroke-width="1.5" stroke-dasharray="7 5"/>
<rect x="852" y="1133" width="50" height="12" fill="#fff"/>
<text x="877" y="1144" text-anchor="middle" style="font-size:11px;fill:#333">Top View</text>
<text x="877" y="1249" text-anchor="middle" style="font-size:11px;fill:#333">Front View</text>
<circle cx="824" cy="1177" r="24" fill="#c8c8c8" stroke="#8ab83a" stroke-width="4"/>
<rect x="800" y="1172" width="48" height="8" fill="#6a6a6a"/><circle cx="824" cy="1176" r="12" fill="#666"/>
<circle cx="925" cy="1177" r="25" fill="#c8c8c8" stroke="#8ab83a" stroke-width="4"/>
<rect x="900" y="1172" width="50" height="8" fill="#6a6a6a"/><circle cx="925" cy="1176" r="15" fill="#666"/>
<text x="877" y="1199" text-anchor="middle" style="font-size:9px;fill:#333">Voltage on</text>
<line x1="857" y1="1204" x2="890" y2="1204" stroke="#b02030" stroke-width="2.5"/><path d="M889,1200 L896,1204 L889,1208z" fill="#b02030"/>
<line x1="802" y1="1215" x2="857" y2="1215" stroke="#b8b8b8" stroke-width="3"/><line x1="815" y1="1215" x2="842" y2="1215" stroke="#666" stroke-width="3"/>
<line x1="898" y1="1215" x2="955" y2="1215" stroke="#b8b8b8" stroke-width="3"/>
<path d="M905,1215 A20,15 0 0 0 945,1215" fill="none" stroke="#777" stroke-width="1.3"/>

<!-- watermark -->
<g opacity="0.75">
 <ellipse cx="716" cy="1377" rx="15" ry="12" fill="#a8a8a8"/><ellipse cx="727" cy="1386" rx="10" ry="8" fill="#9a9a9a"/>
 <text x="740" y="1388" style="font-family:'Liberation Sans','Noto Sans CJK SC',sans-serif;font-size:27px;fill:#b4b4b4">公众号</text>
 <text x="828" y="1388" style="font-size:27px;fill:#b4b4b4">·</text>
 <text x="862" y="1388" style="font-family:'Liberation Sans','Noto Sans CJK SC',sans-serif;font-size:27px;fill:#b4b4b4;letter-spacing:4px">科学前沿阵地</text>
</g>
</svg>
</body></html>
